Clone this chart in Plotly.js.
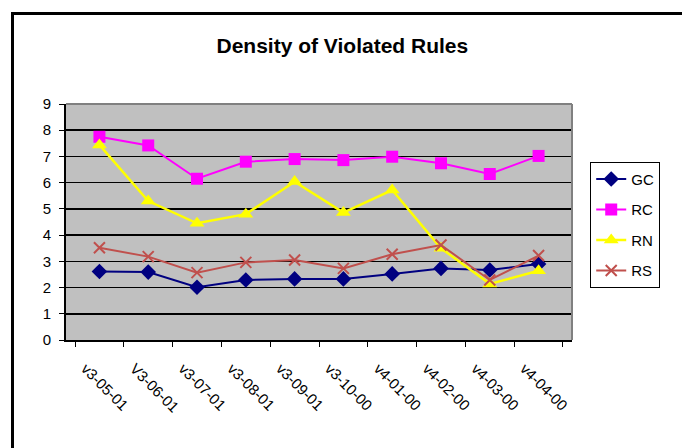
<!DOCTYPE html>
<html>
<head>
<meta charset="utf-8">
<script src="https://cdn.plot.ly/plotly-3.0.1.min.js"></script>
<style>
html,body{margin:0;padding:0;background:#fff;overflow:hidden;}
#chart{position:absolute;left:0;top:0;width:682px;height:448px;}
#frame{position:absolute;left:11px;top:12px;width:700px;height:460px;border:3px solid #000;pointer-events:none;box-sizing:border-box;}
</style>
</head>
<body>
<div id="chart"></div>
<div id="frame"></div>
<script>
var categories = ["v3-05-01","V3-06-01","v3-07-01","v3-08-01","v3-09-01","v3-10-00","v4-01-00","v4-02-00","v4-03-00","v4-04-00"];
var GC = [2.61, 2.59, 2.01, 2.29, 2.33, 2.33, 2.52, 2.73, 2.67, 2.90];
var RC = [7.75, 7.42, 6.15, 6.80, 6.90, 6.86, 6.99, 6.74, 6.33, 7.02];
var RN = [7.44, 5.30, 4.45, 4.80, 6.04, 4.86, 5.72, 3.50, 2.14, 2.64];
var RS = [3.52, 3.18, 2.57, 2.96, 3.05, 2.73, 3.27, 3.62, 2.29, 3.22];
var yTicks = [0,1,2,3,4,5,6,7,8,9];

var traces = [
  {name:"GC", y:GC, color:"#000080", symbol:"diamond", size:12, lw:2},
  {name:"RC", y:RC, color:"#FF00FF", symbol:"square", size:12, lw:2},
  {name:"RN", y:RN, color:"#FFFF00", symbol:"triangle-up", size:13, lw:2.5},
  {name:"RS", y:RS, color:"#C0504D", symbol:"x-thin", size:11, lw:2}
].map(function(t){
  return {
    type:"scatter", mode:"lines+markers", name:t.name, legendgroup:t.name,
    x:categories, y:t.y,
    line:{color:t.color, width:t.lw},
    marker:{color:t.color, symbol:t.symbol, size:t.size, line:{color:t.color, width:t.symbol==="x-thin"?2:0}}
  };
});

var layout = {
  width:682, height:448,
  margin:{l:66, r:110, t:104, b:108},
  paper_bgcolor:"#ffffff",
  plot_bgcolor:"#C0C0C0",
  font:{family:"Arial, Liberation Sans, sans-serif", color:"#000", size:15},
  title:{text:"<b>Density of Violated Rules</b>", x:0.502, xref:"container", xanchor:"center", y:0.897, yanchor:"middle", font:{size:21, family:"Arial, Liberation Sans, sans-serif"}},
  xaxis:{
    type:"category", tickangle:45, tickson:"boundaries", ticks:"outside", ticklen:5, tickcolor:"#000",
    showline:true, linecolor:"#000", linewidth:2, showgrid:false, mirror:false,
    tickfont:{size:15}, automargin:false, ticklabelstandoff:12, ticklabelshift:-14
  },
  yaxis:{
    range:[0,9], tickvals:yTicks, ticks:"outside", ticklen:5, tickcolor:"#000",
    showline:true, linecolor:"#000", linewidth:2, showgrid:true, gridcolor:"#000", gridwidth:1.5,
    zeroline:false, tickfont:{size:15}, automargin:false, ticklabelstandoff:5
  },
  showlegend:true,
  legend:{
    x:1.036, xanchor:"left", y:0.755, yanchor:"top",
    bordercolor:"#000", borderwidth:1, bgcolor:"#fff",
    font:{size:15}, tracegroupgap:8, itemwidth:30
  },
  shapes:[
    {type:"line", xref:"paper", yref:"paper", x0:0, x1:1, y0:1, y1:1, line:{color:"#808080", width:2}},
    {type:"line", xref:"paper", yref:"paper", x0:1, x1:1, y0:0, y1:1, line:{color:"#808080", width:2}}
  ]
};

Plotly.newPlot("chart", traces, layout, {displayModeBar:false, staticPlot:true});
</script>
</body>
</html>
